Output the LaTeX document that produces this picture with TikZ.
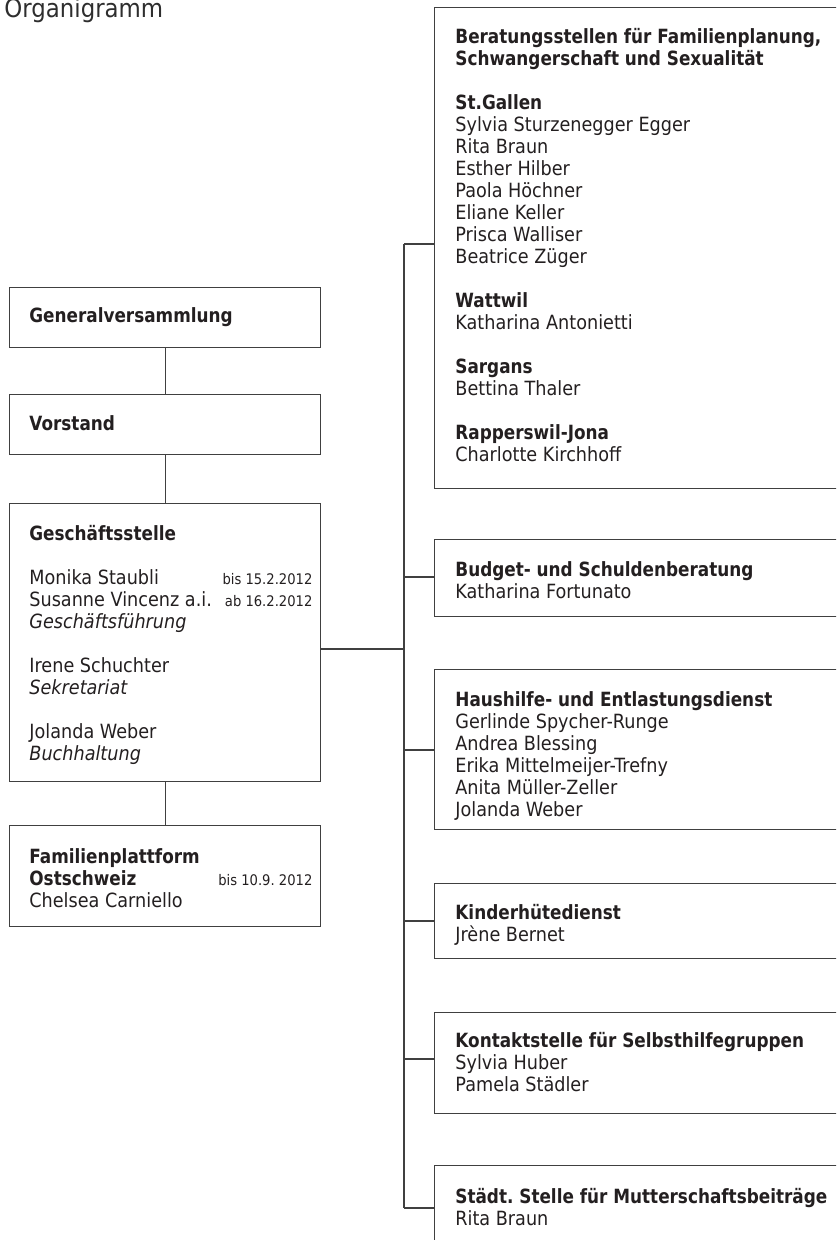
\documentclass[tikz,border=0pt]{standalone}
\usepackage{fontspec}
\setmainfont{DejaVu Sans}[FakeStretch=0.9,BoldFeatures={FakeStretch=0.86}]
\definecolor{ink}{HTML}{231F20}
\definecolor{rule}{HTML}{404040}
\newcommand{\orgdate}[1]{{\fontsize{7.3}{11}\selectfont #1}}
\frenchspacing

\begin{document}
\begin{tikzpicture}[x=0.5pt,y=-0.5pt,
  box/.style 2 args={draw=rule,line width=0.7pt,anchor=north west,inner sep=0pt,minimum width=#1,minimum height=#2},
  txt/.style={anchor=base west,inner sep=0pt,text=ink,font=\fontsize{9.8}{11}\selectfont},
  link/.style={draw=rule,line width=0.7pt}]
\useasboundingbox (0,0) rectangle (836,1240);
\clip (0,0) rectangle (836,1240);

\node[anchor=base west,inner sep=0pt,text=black!82,font=\fontsize{12.7}{14}\selectfont] (title) at (4,18) {Organigramm};

\node[box={155.5pt}{30pt}] (gv) at (9,287) {};
\node[box={155.5pt}{30pt}] (vs) at (9,394) {};
\node[box={155.5pt}{139pt}] (gs) at (9,503) {};
\node[box={155.5pt}{50.5pt}] (fp) at (9,825) {};

\node[txt] (gv-t) at (29,323) {\textbf{Generalversammlung}};
\node[txt] (vs-t) at (29,430) {\textbf{Vorstand}};
\node[txt] (gs-t) at (29,540) {\parbox[t]{141.5pt}{\textbf{Geschäftsstelle}\\[11pt]
  Monika Staubli\hfill\orgdate{bis 15.2.2012}\\
  Susanne Vincenz a.i.\hfill\orgdate{ab 16.2.2012}\\
  \textit{Geschäftsführung}\\[11pt]
  Irene Schuchter\\
  \textit{Sekretariat}\\[11pt]
  Jolanda Weber\\
  \textit{Buchhaltung}}};
\node[txt] (fp-t) at (29,863) {\parbox[t]{141.5pt}{\textbf{Familienplattform}\\
  \textbf{Ostschweiz}\hfill\orgdate{bis 10.9. 2012}\\
  Chelsea Carniello}};

\node[box={230pt}{240.5pt}] (ber) at (434,7) {};
\node[box={230pt}{38.5pt}] (bud) at (434,539) {};
\node[box={230pt}{80pt}] (hau) at (434,669) {};
\node[box={230pt}{37.5pt}] (kin) at (434,883) {};
\node[box={230pt}{50.5pt}] (kon) at (434,1012) {};
\node[box={230pt}{60pt}] (sta) at (434,1165) {};

\node[txt] (ber-t) at (455,44) {\parbox[t]{200pt}{\textbf{Beratungsstellen für Familienplanung,}\\
  \textbf{Schwangerschaft und Sexualität}\\[11pt]
  \textbf{St.Gallen}\\
  Sylvia Sturzenegger Egger\\
  Rita Braun\\
  Esther Hilber\\
  Paola Höchner\\
  Eliane Keller\\
  Prisca Walliser\\
  Beatrice Züger\\[11pt]
  \textbf{Wattwil}\\
  Katharina Antonietti\\[11pt]
  \textbf{Sargans}\\
  Bettina Thaler\\[11pt]
  \textbf{Rapperswil-Jona}\\
  Charlotte Kirchhoff}};
\node[txt] (bud-t) at (455,576) {\parbox[t]{200pt}{\textbf{Budget- und Schuldenberatung}\\
  Katharina Fortunato}};
\node[txt] (hau-t) at (455,706) {\parbox[t]{200pt}{\textbf{Haushilfe- und Entlastungsdienst}\\
  Gerlinde Spycher-Runge\\
  Andrea Blessing\\
  Erika Mittelmeijer-Trefny\\
  Anita Müller-Zeller\\
  Jolanda Weber}};
\node[txt] (kin-t) at (455,919) {\parbox[t]{200pt}{\textbf{Kinderhütedienst}\\
  Jrène Bernet}};
\node[txt] (kon-t) at (455,1047) {\parbox[t]{200pt}{\textbf{Kontaktstelle für Selbsthilfegruppen}\\
  Sylvia Huber\\
  Pamela Städler}};
\node[txt] (sta-t) at (455,1203) {\parbox[t]{200pt}{\textbf{Städt. Stelle für Mutterschaftsbeiträge}\\
  Rita Braun}};

\coordinate (j-ber) at (404,244);
\coordinate (j-gs) at (404,649);
\coordinate (j-bud) at (404,577);
\coordinate (j-hau) at (404,750);
\coordinate (j-kin) at (404,921);
\coordinate (j-kon) at (404,1059);
\coordinate (j-sta) at (404,1208);

\draw[link] (gv.south) -- (vs.north);
\draw[link] (vs.south) -- (gs.north);
\draw[link] (gs.south) -- (fp.north);
\draw[link] (j-ber) -- (j-sta);
\draw[link] (gs.east |- j-gs) -- (j-gs);
\draw[link] (j-ber) -- (j-ber -| ber.west);
\draw[link] (j-bud) -- (j-bud -| bud.west);
\draw[link] (j-hau) -- (j-hau -| hau.west);
\draw[link] (j-kin) -- (j-kin -| kin.west);
\draw[link] (j-kon) -- (j-kon -| kon.west);
\draw[link] (j-sta) -- (j-sta -| sta.west);
\end{tikzpicture}
\end{document}
